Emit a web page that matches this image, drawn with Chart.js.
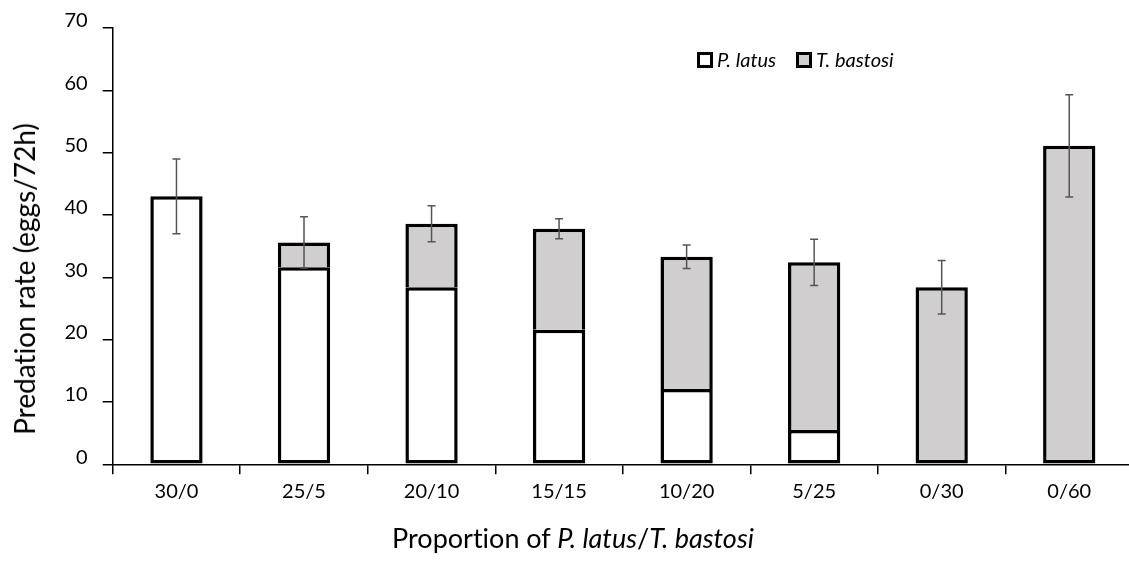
<!DOCTYPE html>
<html>
<head>
<meta charset="utf-8">
<script src="https://cdn.jsdelivr.net/npm/chart.js@4.4.1/dist/chart.umd.min.js"></script>
<style>
  html, body { margin: 0; padding: 0; background: #fff; }
  #wrap { position: relative; width: 1129px; height: 567px; overflow: hidden; font-family: Lato, "Open Sans", sans-serif; color: #000; font-variant-ligatures: none; font-feature-settings: "liga" 0; }
  #c { position: absolute; left: 0; top: 0; }
  .ytitle { position: absolute; left: 24px; top: 279px; transform: translate(-50%, -50%) rotate(-90deg); white-space: nowrap; font-size: 28px; }
  .xtitle { position: absolute; left: 573px; top: 537px; transform: translate(-50%, -50%); white-space: nowrap; font-size: 27px; }
  .legend { position: absolute; top: 47px; left: 697px; font-size: 20px; font-style: italic; white-space: nowrap; }
  .legend span.box { display: inline-block; width: 10px; height: 10px; border: 3px solid #000; vertical-align: -1px; margin-right: 4px; }
  .legend span.item { margin-right: 20px; }
</style>
</head>
<body>
<div id="wrap">
  <canvas id="c" width="1140" height="567" style="width:1140px;height:567px"></canvas>
  <div class="ytitle">Predation rate (eggs/72h)</div>
  <div class="xtitle">Proportion of <i>P. latus</i>/<i>T. bastosi</i></div>
  <div class="legend"><span class="item"><span class="box" style="background:#fff"></span>P. latus</span><span class="item"><span class="box" style="background:#D0CECE"></span>T. bastosi</span></div>
</div>
<script>
const categories = ["30/0", "25/5", "20/10", "15/15", "10/20", "5/25", "0/30", "0/60"];
const pLatus    = [43.0, 31.6, 28.4, 21.6, 12.1, 5.5, null, null];
const tBastosi  = [null, 4.0, 10.2, 16.2, 21.2, 26.9, 28.4, 51.1];
const totalSD   = [6.0, 4.1, 2.9, 1.6, 1.9, 3.7, 4.3, 8.2];
const yTicks    = [0, 10, 20, 30, 40, 50, 60, 70];

const errorBars = {
  id: 'errorBars',
  afterDatasetsDraw(chart) {
    const y = chart.scales.y;
    const ctx = chart.ctx;
    ctx.save();
    ctx.strokeStyle = '#555';
    ctx.lineWidth = 1.5;
    categories.forEach((c, i) => {
      const total = (pLatus[i] || 0) + (tBastosi[i] || 0);
      const x = chart.scales.x.getPixelForValue(i);
      const yt = y.getPixelForValue(total + totalSD[i]);
      const yb = y.getPixelForValue(total - totalSD[i]);
      ctx.beginPath();
      ctx.moveTo(x, yt); ctx.lineTo(x, yb);
      ctx.moveTo(x - 4, yt); ctx.lineTo(x + 4, yt);
      ctx.moveTo(x - 4, yb); ctx.lineTo(x + 4, yb);
      ctx.stroke();
    });
    ctx.restore();
  }
};

new Chart(document.getElementById('c'), {
  type: 'bar',
  data: {
    labels: categories,
    datasets: [
      { label: 'P. latus', data: pLatus, backgroundColor: '#FFFFFF', borderColor: '#000', borderWidth: 3.5, borderSkipped: false },
      { label: 'T. bastosi', data: tBastosi, backgroundColor: '#D0CECE', borderColor: '#000', borderWidth: 3.5,
        borderSkipped: (ctx) => pLatus[ctx.dataIndex] ? 'start' : false }
    ]
  },
  options: {
    responsive: false,
    animation: false,
    datasets: { bar: { barPercentage: 0.41, categoryPercentage: 1.0 } },
    layout: { padding: { top: 28, right: 7, left: 0, bottom: 0 } },
    plugins: { legend: { display: false }, tooltip: { enabled: false } },
    scales: {
      x: {
        stacked: true,
        grid: { display: true, offset: true, drawOnChartArea: false, drawTicks: true, tickLength: 10, color: '#000', lineWidth: 1.5 },
        border: { display: true, color: '#000', width: 1.5 },
        ticks: { color: '#000', font: { family: 'Lato', size: 20 }, padding: 5 },
        afterFit(s) { s.height = 102.7; }
      },
      y: {
        stacked: true,
        min: 0, max: 70,
        afterBuildTicks(s) { s.ticks = yTicks.map(v => ({ value: v })); },
        grid: { display: true, drawOnChartArea: false, drawTicks: true, tickLength: 10, color: '#000', lineWidth: 1.5 },
        border: { display: true, color: '#000', width: 1.5 },
        ticks: { color: '#000', font: { family: 'Lato', size: 20 }, padding: 15, labelOffset: -7 },
        afterFit(s) { s.width = 112.7; }
      }
    }
  },
  plugins: [errorBars]
});
</script>
</body>
</html>
